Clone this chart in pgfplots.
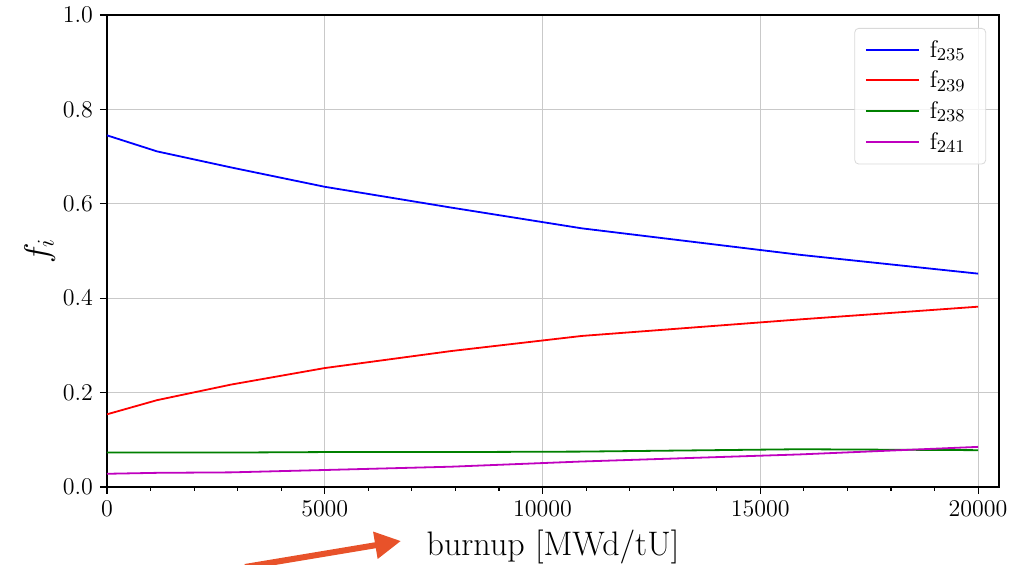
\documentclass[border=0pt]{standalone}
\usepackage{pgfplots}
\pgfplotsset{compat=1.18}
\usetikzlibrary{arrows.meta}

\definecolor{mplgreen}{rgb}{0,0.5,0}
\definecolor{mplmagenta}{rgb}{0.75,0,0.75}
\definecolor{arroworange}{HTML}{E8522A}

% fission fractions vs. burnup
\pgfplotstableread{
bu     f235   f239   f238   f241
0      0.745  0.154  0.073  0.028
1150   0.711  0.184  0.073  0.030
2850   0.677  0.217  0.073  0.031
5000   0.636  0.252  0.074  0.036
7900   0.592  0.288  0.074  0.043
10900  0.548  0.320  0.075  0.054
15900  0.492  0.355  0.080  0.069
20000  0.452  0.382  0.078  0.085
}\fractions

\begin{document}
\begin{tikzpicture}
\path[use as bounding box] (-53.5pt,-39pt) rectangle (459.5pt,243.5pt);
\begin{axis}[
  at={(0,0)}, anchor=south west,
  scale only axis, width=446pt, height=236pt,
  xmin=0, xmax=20480, ymin=0, ymax=1,
  xtick={0,5000,10000,15000,20000}, minor x tick num=4,
  ytick={0,0.2,0.4,0.6,0.8,1.0},
  yticklabel style={/pgf/number format/.cd, fixed, fixed zerofill, precision=1},
  scaled x ticks=false,
  xticklabel style={/pgf/number format/1000 sep={}},
  tick label style={font=\fontsize{13}{15}\selectfont},
  tick align=outside, tick pos=left,
  major tick length=3.5pt, minor tick length=2pt,
  every tick/.style={black, line width=0.6pt},
  grid=major,
  major grid style={gray!42, line width=0.6pt},
  axis line style={line width=0.6pt},
  xlabel={burnup [MWd/tU]},
  ylabel={$f_i$},
  label style={font=\fontsize{17}{20}\selectfont},
  xlabel style={yshift=0pt},
  ylabel style={yshift=-3pt},
  legend style={at={(0.9855,0.9725)}, anchor=north east,
    font=\fontsize{13}{15}\selectfont,
    draw=gray!30, rounded corners=2pt, fill=white, fill opacity=0.8, text opacity=1,
    row sep=1.5pt, inner xsep=5pt, inner ysep=4pt,
    nodes={inner xsep=5pt}},
  legend cell align=left,
  legend image code/.code={\draw[#1, line width=1pt] (0pt,0.25pt) -- (26.5pt,0.25pt);},
  every axis plot/.append style={line width=0.9pt},
]
\addplot[blue] table[x=bu, y=f235] {\fractions};
\addlegendentry{$\mathrm{f}_{235}$}
\addplot[red] table[x=bu, y=f239] {\fractions};
\addlegendentry{$\mathrm{f}_{239}$}
\addplot[mplgreen] table[x=bu, y=f238] {\fractions};
\addlegendentry{$\mathrm{f}_{238}$}
\addplot[mplmagenta] table[x=bu, y=f241] {\fractions};
\addlegendentry{$\mathrm{f}_{241}$}
\end{axis}
\draw[arroworange, line width=3pt, -{Triangle[length=13pt, width=13pt]}]
  (69pt,-40pt) -- (147pt,-27pt);
\end{tikzpicture}
\end{document}
